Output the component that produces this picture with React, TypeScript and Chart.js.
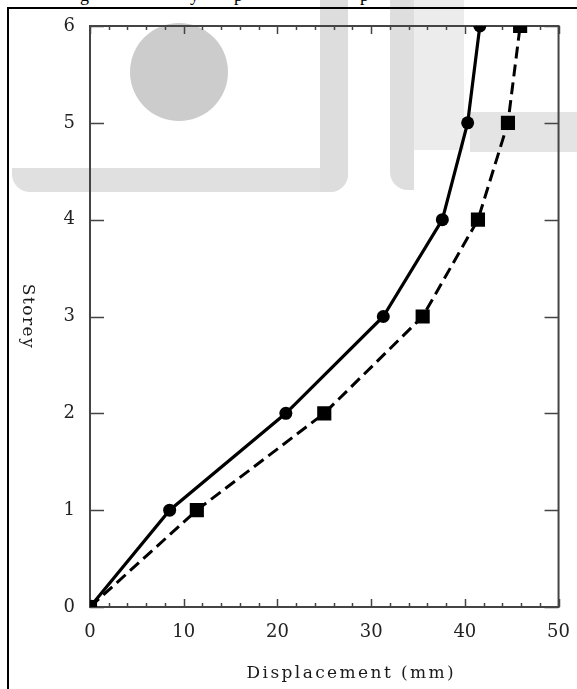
import React, { useEffect, useRef } from 'react';
import { Chart, registerables } from 'chart.js';

Chart.register(...registerables);

// ---- data ----
const storeys = [0, 1, 2, 3, 4, 5, 6];
const solidDisp = [0, 8.5, 20.9, 31.3, 37.6, 40.3, 41.6];
const dashedDisp = [0, 11.4, 25.0, 35.5, 41.4, 44.6, 45.9];
const xTickValues = [0, 10, 20, 30, 40, 50];
const yTickValues = [0, 1, 2, 3, 4, 5, 6];
const xMinorStep = 2;
const xTitle = 'Displacement (mm)';
const yTitle = 'Storey';

const frameTicksPlugin = {
  id: 'frameTicks',
  beforeDatasetsDraw(chart: any) {
    const { ctx, chartArea: a, scales } = chart;
    const x = scales.x;
    const y = scales.y;
    ctx.save();
    ctx.strokeStyle = '#444';
    ctx.lineWidth = 1.5;
    ctx.beginPath();
    for (let v = x.min; v <= x.max + 1e-9; v += xMinorStep) {
      const px = Math.round(x.getPixelForValue(v)) + 0.5;
      const len = Math.abs(v % 10) < 1e-9 ? 8 : 4;
      ctx.moveTo(px, a.bottom);
      ctx.lineTo(px, a.bottom - len);
      ctx.moveTo(px, a.top);
      ctx.lineTo(px, a.top + len);
    }
    for (const s of yTickValues) {
      const py = Math.round(y.getPixelForValue(s)) + 0.5;
      ctx.moveTo(a.left, py);
      ctx.lineTo(a.left + 14, py);
      ctx.moveTo(a.right, py);
      ctx.lineTo(a.right - 14, py);
    }
    ctx.stroke();
    ctx.lineWidth = 2;
    ctx.strokeRect(a.left, a.top, a.right - a.left, a.bottom - a.top);
    ctx.restore();
  },
  afterDraw(chart: any) {
    const { ctx, chartArea: a } = chart;
    ctx.save();
    ctx.fillStyle = '#1a1a1a';
    ctx.textAlign = 'center';
    ctx.textBaseline = 'middle';
    ctx.font = '17px "DejaVu Serif"';
    (ctx as any).letterSpacing = '2.4px';
    ctx.fillText(xTitle, (a.left + a.right) / 2 + 27, a.bottom + 67);
    (ctx as any).letterSpacing = '1.5px';
    ctx.translate(27, (a.top + a.bottom) / 2);
    ctx.rotate(Math.PI / 2);
    ctx.fillText(yTitle, 0, 0);
    ctx.restore();
  },
};

export default function App() {
  const ref = useRef<HTMLCanvasElement | null>(null);

  useEffect(() => {
    if (!ref.current) return;
    const chart = new Chart(ref.current, {
      type: 'scatter',
      data: {
        datasets: [
          {
            label: 'dashed',
            data: dashedDisp.map((d, i) => ({ x: d, y: storeys[i] })),
            showLine: true,
            borderColor: '#000',
            backgroundColor: '#000',
            borderWidth: 3,
            borderDash: [12, 6],
            pointStyle: 'rect',
            pointRadius: 10,
            pointBorderWidth: 0,
            pointHoverRadius: 10,
          },
          {
            label: 'solid',
            data: solidDisp.map((d, i) => ({ x: d, y: storeys[i] })),
            showLine: true,
            borderColor: '#000',
            backgroundColor: '#000',
            borderWidth: 3.2,
            pointStyle: 'circle',
            pointRadius: 6.5,
            pointBorderWidth: 0,
            pointHoverRadius: 6.5,
          },
        ],
      },
      options: {
        responsive: false,
        animation: false,
        layout: { padding: { left: 0, top: 26, right: 15, bottom: 0 } },
        plugins: {
          legend: { display: false },
          tooltip: { enabled: false },
          title: { display: false },
        },
        scales: {
          x: {
            type: 'linear',
            min: 0,
            max: 50,
            afterBuildTicks: (s: any) => {
              s.ticks = xTickValues.map((v) => ({ value: v }));
            },
            afterFit: (s: any) => {
              s.height = 82;
            },
            grid: { display: false },
            border: { display: false },
            ticks: {
              padding: 7,
              color: '#222',
              font: { family: '"DejaVu Serif"', size: 18 },
            },
          },
          y: {
            type: 'linear',
            min: 0,
            max: 6,
            afterBuildTicks: (s: any) => {
              s.ticks = yTickValues.map((v) => ({ value: v }));
            },
            afterFit: (s: any) => {
              s.width = 90;
            },
            grid: { display: false },
            border: { display: false },
            ticks: {
              padding: 7,
              color: '#222',
              font: { family: '"DejaVu Serif"', size: 18 },
            },
          },
        },
      },
      plugins: [frameTicksPlugin],
    });
    return () => chart.destroy();
  }, []);

  return (
    <div
      style={{
        position: 'absolute',
        left: 0,
        top: 0,
        width: 577,
        height: 689,
        overflow: 'hidden',
        background: '#fff',
      }}
    >
      {/* watermark */}
      <div style={{ position: 'absolute', left: 130, top: 23, width: 98, height: 98, borderRadius: '50%', background: '#cccccc' }} />
      <div style={{ position: 'absolute', left: 12, top: 168, width: 336, height: 24, background: '#e0e0e0', borderBottomLeftRadius: 18, borderBottomRightRadius: 18 }} />
      <div style={{ position: 'absolute', left: 320, top: 0, width: 28, height: 192, background: '#dddddd', borderBottomRightRadius: 18 }} />
      <div style={{ position: 'absolute', left: 390, top: 0, width: 24, height: 190, background: '#dedede', borderBottomLeftRadius: 18 }} />
      <div style={{ position: 'absolute', left: 414, top: 0, width: 50, height: 150, background: '#ececec' }} />
      <div style={{ position: 'absolute', left: 470, top: 112, width: 107, height: 40, background: '#e4e4e4' }} />
      {/* frame */}
      <div style={{ position: 'absolute', left: 7, top: 7, width: 620, height: 720, borderLeft: '2px solid #000', borderTop: '2px solid #000' }} />
      {/* clipped caption above frame */}
      <div style={{ position: 'absolute', left: 0, top: 0, width: 577, height: 7, overflow: 'hidden', fontFamily: '"Liberation Serif"', fontSize: 18, lineHeight: '20px' }}>
        <span style={{ position: 'absolute', left: 80, top: -15 }}>g</span>
        <span style={{ position: 'absolute', left: 190, top: -15 }}>y</span>
        <span style={{ position: 'absolute', left: 234, top: -15 }}>p</span>
        <span style={{ position: 'absolute', left: 360, top: -15 }}>p</span>
      </div>
      <canvas ref={ref} width={577} height={689} style={{ position: 'absolute', left: 0, top: 0 }} />
    </div>
  );
}
